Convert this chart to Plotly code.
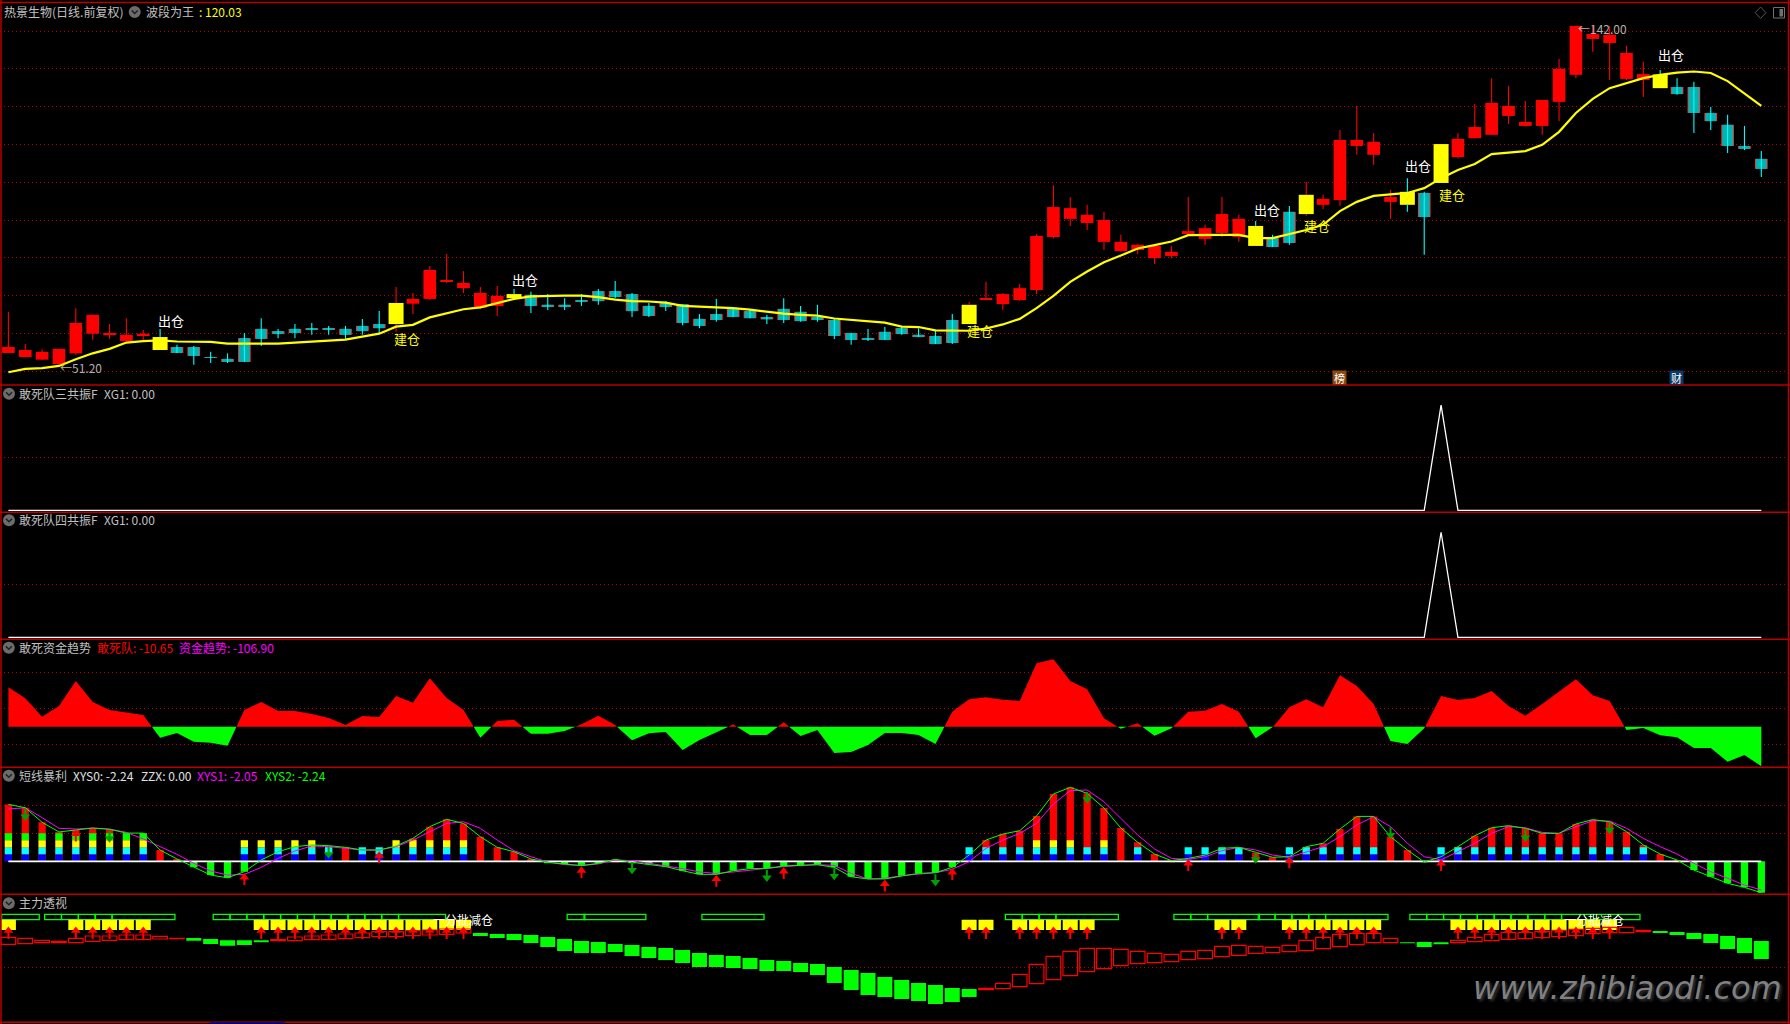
import plotly.graph_objects as go
import numpy as np

W, H = 1790, 1024
CJK = "Noto Sans CJK SC"

# ---------- main price panel (prices) ----------
body_top = [55.3,54.5,54.0,54.8,61.8,64.0,59.1,58.6,58.9,58.0,
55.3,55.3,52.6,52.1,57.7,60.2,59.6,60.2,60.4,60.2,
60.2,61.0,61.5,67.2,68.3,76.1,73.3,72.6,69.9,69.1,
69.6,69.4,66.7,66.7,68.0,70.4,70.4,69.6,66.4,67.2,
66.9,62.9,64.2,65.6,65.0,63.4,65.6,64.8,63.4,62.6,
59.1,57.7,59.4,60.4,58.6,58.3,62.6,66.7,68.5,69.6,
71.2,85.3,93.1,92.8,91.0,89.6,83.7,82.9,82.6,81.0,
86.6,87.4,91.2,89.9,88.0,84.7,91.8,96.4,95.3,111.2,
111.2,110.7,95.8,97.2,96.9,110.1,111.5,114.7,121.2,120.4,
116.1,122.0,130.4,142.0,139.8,139.6,134.7,129.0,128.9,125.5,
125.5,118.5,115.3,109.6,106.1]
body_bot = [53.7,52.6,51.9,50.7,53.6,58.9,58.5,56.9,58.4,54.5,
53.7,52.9,52.4,51.3,51.3,57.5,58.8,59.1,59.9,59.9,
58.6,59.6,60.4,61.5,67.0,68.3,73.0,71.2,65.9,66.4,
68.5,66.4,66.1,66.1,67.7,67.7,68.8,65.0,63.7,66.1,
61.8,61.0,62.6,63.4,63.1,62.8,62.6,62.3,62.6,58.3,
57.2,57.2,57.2,58.8,58.0,56.1,56.4,61.5,68.0,66.9,
68.0,70.7,85.0,89.9,88.8,83.7,81.2,81.5,79.3,79.9,
85.8,84.5,86.1,85.0,82.6,82.3,83.4,91.2,93.7,95.0,
109.6,107.2,94.5,93.7,90.4,99.6,106.6,111.7,112.6,117.7,
115.0,115.0,121.5,128.8,138.5,137.4,127.7,127.4,125.2,123.6,
118.5,116.3,109.6,108.8,103.4]
wick_hi = [64.8,56.1,54.7,54.8,65.8,64.0,61.5,63.1,59.9,60.2,
55.9,55.6,54.0,53.6,59.1,63.1,60.2,61.5,61.8,61.0,
61.0,62.9,65.0,71.5,69.9,77.2,80.4,75.8,71.5,71.8,
71.0,70.2,69.6,68.5,69.6,71.0,73.1,69.9,67.2,67.7,
66.9,64.2,68.3,65.6,65.3,64.0,68.5,66.4,66.7,62.9,
59.1,60.2,60.7,60.7,60.4,59.6,64.2,67.5,72.9,69.9,
72.3,85.8,99.0,95.8,93.7,91.8,85.6,83.1,82.6,82.6,
95.8,88.3,95.8,91.0,89.3,85.6,93.4,99.9,96.4,113.9,
120.4,113.1,97.7,100.9,97.2,110.1,113.1,120.9,127.9,125.8,
121.7,122.0,133.1,142.0,142.0,142.0,136.6,132.3,130.1,127.9,
126.9,120.1,118.0,115.0,108.2]
wick_lo = [53.7,52.6,51.7,50.5,53.2,57.3,57.5,56.8,57.0,54.5,
53.7,50.5,51.0,51.0,51.3,55.6,57.7,57.7,58.6,58.6,
57.5,58.6,59.1,59.4,64.2,68.0,72.6,69.9,65.6,63.7,
68.0,64.5,65.3,65.3,66.4,66.7,68.5,63.4,63.4,65.0,
61.2,60.4,62.1,63.4,63.1,61.5,61.8,62.1,62.1,57.5,
55.9,56.9,57.2,58.6,58.0,56.1,56.1,61.5,68.0,65.3,
67.7,69.6,84.7,88.0,86.9,81.5,81.0,80.4,77.7,79.3,
85.6,82.9,85.0,83.7,82.6,82.3,82.9,90.7,92.6,93.4,
107.2,104.5,89.9,91.8,80.2,99.6,106.3,111.7,112.6,115.5,
115.0,112.6,116.3,127.9,135.0,127.4,127.4,122.8,125.2,123.4,
113.1,113.9,107.7,108.5,101.2]
candle_kind = ("rrrrrrrrrc" "ccccccccccccc" "rrrrrrr" "ccccccccccccccccccccccccccc"
               "rrrrrrrrrrrrrrrrr" "ccc" "rrrrrr" "cc" "rrrrrrrrrrrrr" "ccccccc")
wave_king = [48.5,49.4,49.6,50.2,52.0,53.6,54.8,56.5,56.9,57.1,
56.8,56.8,56.7,56.2,56.2,56.2,56.2,56.5,56.7,57.0,
57.3,58.1,58.9,60.8,61.3,63.3,64.4,65.5,66.0,67.1,
68.3,69.0,69.2,69.2,69.2,68.8,68.1,67.7,67.6,67.3,
66.4,66.2,66.1,65.8,65.4,64.8,64.3,64.0,63.8,63.0,
62.6,62.1,61.9,60.8,60.7,59.8,59.7,59.7,60.3,61.4,
62.9,65.8,69.1,72.9,75.7,78.2,80.0,81.9,82.8,83.8,
85.5,85.6,85.6,85.6,84.7,84.7,85.8,86.9,88.3,92.0,
94.5,96.1,96.5,96.9,98.2,100.9,103.1,104.7,107.4,107.8,
108.2,109.9,113.4,118.5,122.3,125.2,126.6,127.9,128.8,129.4,
129.7,129.3,127.1,123.8,120.4]
signal_idx = [9,23,30,57,74,77,83,85,98]
sell_idx = [9,30,74,83,98]
sell_label_price = [62.5,73.6,92.5,104.4,134.2]
buy_idx = [23,57,77,85]
buy_label_price = [57.7,59.8,88.2,96.4]
price_grid = [140.45,130.46,120.2,110.03,99.77,89.51,79.52,69.26,59.0,48.74]

# ---------- resonance panels ----------
xg_peak_idx = 85

# ---------- fund trend panel ----------
fund_trend = [106.2,76.5,27.0,55.8,123.3,66.6,45.0,37.8,31.5,-29.7,
-17.1,-40.5,-43.2,-51.3,45.0,66.6,42.3,42.3,34.2,23.4,
4.5,28.8,26.1,82.8,64.8,130.5,77.4,45.0,-29.7,15.3,
18.9,-18.9,-18.9,-11.7,6.3,29.7,4.5,-36.9,-18.0,-14.4,
-63.0,-36.0,-16.2,6.3,-22.5,-22.5,11.7,-25.2,-9.0,-71.1,
-68.4,-49.5,-17.1,-17.1,-22.5,-46.8,40.5,73.8,79.2,72.9,
69.3,171.0,181.8,123.3,100.8,22.5,-5.4,9.0,-24.3,-4.5,
40.5,43.2,61.2,40.5,-31.5,-1.8,52.2,73.8,52.2,138.6,
109.8,61.2,-38.7,-46.8,-4.5,82.8,72.0,77.4,96.3,55.8,
29.7,61.2,93.6,127.8,84.6,69.3,-9.0,-3.6,-23.4,-28.8,
-57.6,-57.6,-94.5,-76.5,-106.9]
fund_grid = [146.8,49.6,-47.6]

# ---------- short-term panel ----------
xys0 = [4.07,3.83,2.79,2.10,2.24,2.38,2.29,2.02,2.02,0.81,
0.17,-0.43,-0.98,-1.17,-0.74,0.10,0.69,1.05,1.17,1.12,
1.00,0.81,0.81,1.10,1.64,2.48,3.00,2.71,1.76,1.00,
0.69,0.17,-0.07,-0.19,-0.31,-0.14,0.14,-0.07,-0.21,-0.38,
-0.67,-0.93,-0.93,-0.67,-0.52,-0.50,-0.33,-0.29,-0.24,-0.43,
-1.10,-1.26,-1.26,-1.05,-0.86,-0.81,-0.43,0.45,1.52,1.95,
2.19,3.24,4.81,5.29,4.86,3.81,2.38,1.36,0.52,0.05,
0.21,0.45,0.93,1.00,0.62,0.29,0.33,1.05,1.29,2.31,
3.21,3.21,1.76,0.81,-0.05,0.33,1.05,1.83,2.40,2.55,
2.36,2.00,2.00,2.67,2.98,2.83,2.12,1.17,0.52,0.10,
-0.62,-1.10,-1.57,-1.86,-2.24]
xys1 = [3.74,3.83,3.12,2.36,2.31,2.38,2.31,2.07,1.60,1.05,
0.50,-0.14,-0.69,-0.98,-0.93,-0.43,0.21,0.74,1.10,1.05,
0.95,0.81,0.81,1.05,1.52,2.12,2.71,2.83,2.36,1.52,
0.76,0.33,-0.05,-0.24,-0.29,-0.19,0.10,0.05,-0.14,-0.29,
-0.52,-0.76,-0.86,-0.76,-0.62,-0.52,-0.38,-0.29,-0.24,-0.29,
-0.86,-1.26,-1.21,-1.02,-0.90,-0.81,-0.57,-0.02,0.93,1.52,
2.00,2.71,4.10,5.05,5.10,4.26,3.07,1.88,0.88,0.21,
0.14,0.33,0.76,1.00,0.81,0.45,0.29,0.69,1.05,1.76,
2.60,3.19,2.48,1.29,0.33,0.10,0.69,1.29,2.00,2.48,
2.40,2.07,2.00,2.48,2.90,2.88,2.36,1.64,1.05,0.52,
-0.14,-0.74,-1.21,-1.69,-2.05]
block_count = [4,4,4,4,4,4,4,4,4, 0,0,0,0,0, 3,3,3,3,3, 2, 0, 2,2, 3,3,3,3,3,
 0,0,0,0,0,0,0,0,0,0,0,0,0,0,0,0,0,0,0,0,0,0,0,0,0,0,0,0,0,
 2,2,2,2, 3,3,3, 2, 3, 0, 2, 0,0, 2,2,2,2, 0,0, 2,2,2,2,2,2, 0,0,0,
 2,2,2,2,2,2,2,2,2,2,2,2,2, 0,0,0,0,0,0,0]
block_colors = ["#0000ff", "#00ffff", "#ffff00", "#00ff00"]
up_idx = [4,14,22,34,42,46,52,56,70,76,85,92]
up_tip = [2.24,-0.86,0.69,-0.38,-0.98,-0.43,-1.33,-0.50,0.14,0.33,0.14,2.00]
down_idx = [1,6,19,37,45,49,55,64,74,82,90,95]
down_tail = [3.74,2.19,1.05,-0.07,-0.62,-0.50,-0.93,4.98,0.69,2.43,2.24,2.79]
short_grid = [2, 4]

# ---------- main-force panel ----------
zl_top = [278,275,269,266,275,282,282,285,285,281,275,276,273,269,269,267,271,279,282,285,
288,291,295,295,298,300,303,303,291,288,288,285,279,273,267,264,258,255,249,246,
240,231,225,222,216,210,207,201,198,189,180,171,159,150,141,135,126,123,125,140,
167,197,221,236,245,245,242,236,230,227,236,239,251,254,251,248,254,269,278,287,
290,290,275,263,264,261,269,278,287,293,293,296,299,302,305,308,308,299,297,294,
291,288,282,276,267]
zl_bot = [257,259,262,262,262,266,269,271,271,273,274,268,258,253,255,265,268,268,271,271,
274,277,280,280,283,285,287,291,282,276,270,261,249,237,231,231,234,222,216,210,
201,189,189,186,183,177,177,174,165,141,120,105,99,93,87,78,84,99,121,124,
130,139,151,163,175,184,193,199,202,205,211,214,220,224,230,232,235,238,244,250,
256,262,262,261,249,259,262,265,268,272,274,277,280,283,289,292,292,295,291,285,
273,261,243,231,213]
zl_kind = ("rrrrrrrrrrr" "ggggg" "rrrrrrrrrrrr" "gggggggggggggggggggggggggggggg"
           "rrrrrrrrrrrrrrrrrrrrrrrrr" "ggg" "rrrrrrrrrrrr" "ggggggg")
zl_signal_idx = [0,4,5,6,7,8,15,16,17,18,19,20,21,22,23,24,25,26,27,
                 57,58,60,61,62,63,64,72,73,76,77,78,79,80,81,
                 86,87,88,89,90,91,92,93,94,95]
strip_start = [-0.55,2,3,4,5,6,12,13,14,15,16,17,18,19,20,21,22,23,33,34,41,
               59,60,61,62,69,70,71,74,75,76,77,78,83,84,85,86,87,88,89,90,91,92]
strip_days = [2.23,1,1,1,1,3.73,1,1,1,1,1,1,1,1,1,1,1,2.79,1.05,3.67,3.68,
              1,1,1,3.7,1,1,3.07,1,1,1,1,3.7,1,1,1,1,1,1,1,1,1,4.65]
zl_grid = [188]

n = len(body_top)
x = list(range(n))
x_left = -8.4 / 16.855
x_right = (W - 8.4) / 16.855

fig = go.Figure()

# panel px bounds and value ranges
panels = [
    (0, 385, 45.05, 149.0, price_grid),
    (385, 512.3, -0.019, 1.191, [0.503]),
    (512.3, 639.3, -0.019, 1.19, [0.505]),
    (639.3, 767.3, -109.7, 235.9, fund_grid),
    (767.3, 894.3, -2.355, 6.72, short_grid),
    (894.3, 1022.3, 23.1, 407.1, zl_grid),
]
axes = {}
for k, (t, b, lo, hi, grid) in enumerate(panels):
    name = "yaxis" if k == 0 else f"yaxis{k+1}"
    axes[name] = dict(domain=[1 - b / H, 1 - t / H], range=[lo, hi], tickvals=grid,
                      showticklabels=False, ticks="", showgrid=True, gridcolor="#c00000",
                      griddash="1px,3px", gridwidth=1, zeroline=False, showline=False,
                      anchor="x", fixedrange=True)


def Y(k):
    return "y" if k == 0 else f"y{k+1}"


def segs(xs, lows, highs):
    ox, oy = [], []
    for a, l, h in zip(xs, lows, highs):
        ox += [a, a, None]
        oy += [l, h, None]
    return ox, oy


def bars(idx, top, bot, color, width, k, line=None):
    fig.add_trace(go.Bar(x=idx, y=[a - b for a, b in zip(top, bot)], base=bot, width=width,
                         yaxis=Y(k), hoverinfo="skip", showlegend=False,
                         marker=dict(color=color, line=line or dict(width=0))))


def pick(arr, idx):
    return [arr[i] for i in idx]


# ----- candles -----
red_i = [i for i in x if candle_kind[i] == "r" and i not in signal_idx]
cyan_i = [i for i in x if candle_kind[i] == "c" and i not in signal_idx]
bars(red_i, pick(body_top, red_i), pick(body_bot, red_i), "#ff0000", 0.75, 0)
bars(cyan_i, pick(body_top, cyan_i), pick(body_bot, cyan_i), "#ff3030", 0.75, 0)
bars(cyan_i, pick(body_top, cyan_i), pick(body_bot, cyan_i), "#00b4b4", 0.64, 0)
bars(signal_idx, pick(body_top, signal_idx), pick(body_bot, signal_idx), "#ffff00", 0.89, 0)

for kind, col in (("r", "#ff0000"), ("c", "#00ffff")):
    ox, oy = [], []
    for i in x:
        if candle_kind[i] != kind:
            continue
        if i in signal_idx:
            a, b = segs([i, i], [body_top[i], wick_lo[i]], [wick_hi[i], body_bot[i]])
        else:
            a, b = segs([i], [wick_lo[i]], [wick_hi[i]])
        ox += a
        oy += b
    fig.add_trace(go.Scatter(x=ox, y=oy, mode="lines", line=dict(color=col, width=1.1),
                             hoverinfo="skip", showlegend=False))
fig.add_trace(go.Scatter(x=x, y=wave_king, mode="lines", line=dict(color="#ffff00", width=2.2),
                         hoverinfo="skip", showlegend=False))

# ----- resonance -----
for k in (1, 2):
    xg = [1 if i == xg_peak_idx else 0 for i in x]
    fig.add_trace(go.Scatter(x=x, y=xg, yaxis=Y(k), mode="lines", line=dict(color="#ffffff", width=1.3),
                             hoverinfo="skip", showlegend=False))

# ----- fund trend area -----
ax, ay = [], []
for i in x:
    ax.append(i)
    ay.append(fund_trend[i])
    if i < n - 1 and fund_trend[i] * fund_trend[i + 1] < 0:
        ax.append(i + fund_trend[i] / (fund_trend[i] - fund_trend[i + 1]))
        ay.append(0)
ay = np.array(ay)
fig.add_trace(go.Scatter(x=ax, y=np.maximum(ay, 0), yaxis=Y(3), mode="lines", fill="tozeroy",
                         fillcolor="#ff0000", line=dict(width=0), hoverinfo="skip", showlegend=False))
fig.add_trace(go.Scatter(x=ax, y=np.minimum(ay, 0), yaxis=Y(3), mode="lines", fill="tozeroy",
                         fillcolor="#00ff00", line=dict(width=0), hoverinfo="skip", showlegend=False))

# ----- short-term -----
pos = [i for i in x if xys0[i] > 0]
neg = [i for i in x if xys0[i] <= 0]
bars(pos, pick(xys0, pos), [0] * len(pos), "#ff0000", 0.43, 4)
bars(neg, [0] * len(neg), pick(xys0, neg), "#00ff00", 0.43, 4)
for b, col in enumerate(block_colors):
    idx = [i for i in x if block_count[i] > b]
    bars(idx, [0.5 * (b + 1)] * len(idx), [0.5 * b] * len(idx), col, 0.43, 4)
fig.add_trace(go.Scatter(x=x, y=[0] * n, yaxis=Y(4), mode="lines", line=dict(color="#ffffff", width=1.6),
                         hoverinfo="skip", showlegend=False))
fig.add_trace(go.Scatter(x=x, y=xys1, yaxis=Y(4), mode="lines", line=dict(color="#ff00ff", width=1),
                         hoverinfo="skip", showlegend=False))
fig.add_trace(go.Scatter(x=x, y=xys0, yaxis=Y(4), mode="lines", line=dict(color="#00ff00", width=1),
                         hoverinfo="skip", showlegend=False))


def arrows(idx, tips, length, head, k, color, up=True):
    sign = 1 if up else -1
    lows = [t - sign * length for t in tips]
    centers = [t - sign * head for t in tips]
    ox, oy = segs(idx, lows, centers)
    fig.add_trace(go.Scatter(x=ox, y=oy, yaxis=Y(k), mode="lines", line=dict(color=color, width=2),
                             hoverinfo="skip", showlegend=False))
    fig.add_trace(go.Scatter(x=idx, y=centers, yaxis=Y(k), mode="markers",
                             marker=dict(symbol="triangle-up" if up else "triangle-down", size=8.5,
                                         color=color, line=dict(width=0)),
                             hoverinfo="skip", showlegend=False))


arrows(up_idx, up_tip, 0.83, 0.28, 4, "#ff0000", True)
arrows(down_idx, [t - 0.83 for t in down_tail], 0.83, 0.28, 4, "#00a000", False)

# ----- main-force -----
fig.add_trace(go.Bar(x=[s + 0.15 + d / 2 for s, d in zip(strip_start, strip_days)],
                     y=[16] * len(strip_start), base=[331] * len(strip_start), width=strip_days,
                     yaxis=Y(5), hoverinfo="skip", showlegend=False,
                     marker=dict(color="rgba(0,0,0,0)", line=dict(color="#00ff00", width=1.3))))
bars(zl_signal_idx, [331] * len(zl_signal_idx), [300] * len(zl_signal_idx), "#ffff00", 0.89, 5)
r_i = [i for i in x if zl_kind[i] == "r"]
g_i = [i for i in x if zl_kind[i] == "g"]
bars(r_i, pick(zl_top, r_i), pick(zl_bot, r_i), "rgba(0,0,0,0)", 0.87, 5,
     line=dict(color="#ff0000", width=1.2))
bars(g_i, pick(zl_top, g_i), pick(zl_bot, g_i), "#00ff00", 0.89, 5)
arrows(zl_signal_idx, [310] * len(zl_signal_idx), 37, 12, 5, "#ff0000", True)

# ----- annotations -----
ann = []


def label(px, py, text, color="#c0c0c0", size=12, anchor="left", **kw):
    ann.append(dict(xref="paper", yref="paper", x=px / W, y=1 - py / H, text=text, showarrow=False,
                    xanchor=anchor, yanchor="middle", borderpad=0,
                    font=dict(family=CJK, size=size, color=color), **kw))


for i, p in zip(sell_idx, sell_label_price):
    ann.append(dict(x=i + 0.65, y=p, xref="x", yref="y", text="出仓", showarrow=False,
                    font=dict(family=CJK, size=13, color="#ffffff")))
for i, p in zip(buy_idx, buy_label_price):
    ann.append(dict(x=i + 0.65, y=p, xref="x", yref="y", text="建仓", showarrow=False,
                    font=dict(family=CJK, size=13, color="#ffff00")))

label(3, 11, "热景生物(日线.前复权)")
label(144.7, 11, "波段为王")
label(198, 11, ": 120.03", "#ffff00")
label(18, 393, "敢死队三共振F")
label(102.7, 393, "XG1: 0.00")
label(18, 519.6, "敢死队四共振F")
label(102.7, 519.6, "XG1: 0.00")
label(18, 647, "敢死资金趋势")
label(96, 647, "敢死队: -10.65", "#ff0000")
label(178, 647, "资金趋势: -106.90", "#ff00ff")
label(18, 775, "短线暴利")
label(72, 775, "XYS0: -2.24", "#e0e0e0")
label(140, 775, "ZZX: 0.00", "#e0e0e0")
label(196, 775, "XYS1: -2.05", "#ff00ff")
label(264, 775, "XYS2: -2.24", "#00ff00")
label(18, 902.6, "主力透视")
label(59, 367, "←51.20", "#b0b0b0")
label(1577, 28.5, "←142.00", "#b0b0b0")
label(432, 919.7, "一分批减仓", "#ffffff")
label(1563, 919.7, "一分批减仓", "#ffffff")
label(1339.6, 377.3, "榜", "#ffffff", 11, "center", bgcolor="#8a4a10", width=13, height=13)
label(1676, 377.3, "财", "#ffffff", 11, "center", bgcolor="#0a3a6a", width=13, height=13)
ann.append(dict(xref="paper", yref="paper", x=1627 / W, y=1 - 988 / H, text="www.zhibiaodi.com",
                showarrow=False, xanchor="center", yanchor="middle",
                font=dict(family="DejaVu Sans", size=32, color="#808080", style="italic", shadow="2px 2px 3px #333")))

# ----- frame and icons -----
shapes = []


def hline(py, col="#b80000", w=1.5):
    shapes.append(dict(type="line", xref="paper", yref="paper", x0=0, x1=1, y0=1 - py / H, y1=1 - py / H,
                       line=dict(color=col, width=w)))


for py in (2.5, 385, 512.3, 639.3, 767.3, 894.3, 1022.3):
    hline(py)
for px in (1, 1788.5):
    shapes.append(dict(type="line", xref="paper", yref="paper", x0=px / W, x1=px / W, y0=0, y1=1,
                       line=dict(color="#b80000", width=1.5)))
shapes.append(dict(type="line", xref="paper", yref="paper", x0=210 / W, x1=285 / W, y0=1 - 1023 / H, y1=1 - 1023 / H,
                   line=dict(color="#000090", width=1.5)))


def P(px, py):
    return f"{px / W:.5f},{1 - py / H:.5f}"


for cx, cy in [(134.7, 12), (9, 393.7), (9, 520.3), (8.8, 647.7), (8.8, 775.7), (8.8, 903.3)]:
    shapes.append(dict(type="circle", xref="paper", yref="paper", x0=(cx - 6) / W, x1=(cx + 6) / W,
                       y0=1 - (cy + 6) / H, y1=1 - (cy - 6) / H, fillcolor="#6c6c6c", line=dict(width=0)))
    shapes.append(dict(type="path", xref="paper", yref="paper",
                       path=f"M {P(cx-3, cy-1.5)} L {P(cx, cy+1.5)} L {P(cx+3, cy-1.5)}",
                       line=dict(color="#202020", width=1.5)))
# top-right window icons
shapes.append(dict(type="path", xref="paper", yref="paper",
                   path=f"M {P(1760.6, 7)} L {P(1766, 12.7)} L {P(1760.6, 18.4)} L {P(1755.2, 12.7)} Z",
                   line=dict(color="#555555", width=1)))
shapes.append(dict(type="rect", xref="paper", yref="paper", x0=1773.5 / W, x1=1784.5 / W, y0=1 - 18 / H, y1=1 - 7.5 / H,
                   line=dict(color="#707070", width=1)))
shapes.append(dict(type="rect", xref="paper", yref="paper", x0=1779.5 / W, x1=1783 / W, y0=1 - 16.5 / H, y1=1 - 9 / H,
                   fillcolor="#707070", line=dict(width=0)))

fig.update_layout(
    width=W, height=H, margin=dict(l=0, r=0, t=0, b=0), autosize=False,
    paper_bgcolor="#000000", plot_bgcolor="#000000", barmode="overlay", showlegend=False,
    xaxis=dict(range=[x_left, x_right], visible=False, fixedrange=True, domain=[0, 1]),
    annotations=ann, shapes=shapes, font=dict(family=CJK),
    **axes,
)
fig.write_html("out.html", config=dict(displayModeBar=False),
               post_script="document.body.style.margin='0';document.body.style.background='#000';document.body.style.overflow='hidden';")
